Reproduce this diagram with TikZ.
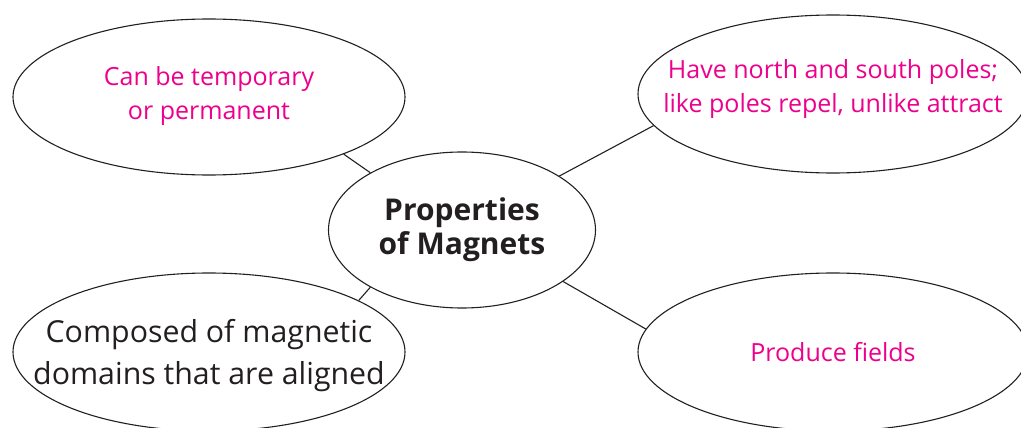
\documentclass[tikz,border=0pt]{standalone}
\usepackage{fontspec}
\setmainfont{Open Sans}
\usepackage{xcolor}
\usepackage{tikz}
\usetikzlibrary{shapes.geometric}

\definecolor{factpink}{RGB}{236,0,140}
\definecolor{inkgray}{RGB}{35,31,32}

\begin{document}
\begin{tikzpicture}[
    x=1pt, y=-1pt,
    % Bubble outlines (sized by hand, text placed on top)
    bubble/.style={
        ellipse, draw=inkgray, line width=1.1pt, inner sep=0pt,
        minimum width=392pt, minimum height=156pt
    },
    % Pink fact text
    facttext/.style={
        align=center, inner sep=0pt, text=factpink,
        font=\fontsize{25}{34}\selectfont
    },
    % Dark body text
    bodytext/.style={
        align=center, inner sep=0pt, text=inkgray,
        font=\fontsize{30.3}{42}\selectfont
    },
    % Central title
    hubtext/.style={
        align=center, inner sep=0pt, text=inkgray,
        font=\fontsize{30}{34}\selectfont\bfseries
    },
    % Spokes
    spoke/.style={draw=inkgray, line width=1.1pt},
]

% Page frame (also cuts the bubbles at the edges)
\clip (0,0) rectangle (1021,428);

% Column and row centres
\def\leftx{209}
\def\rightx{833}
\def\topy{97}
\def\boty{352}

% Central bubble
\node[bubble, minimum width=267pt] (props) at (462, 230) {};
\node[hubtext] (propst) at (props) {Properties\\of Magnets};

% Outer bubbles
\node[bubble] (tempperm) at (\leftx, \topy) {};
\node[facttext] (temppermt) at ([yshift=1pt]tempperm) {Can be temporary\\or permanent};

\node[bubble, minimum width=390pt, minimum height=158pt] (poles) at (\rightx, 94) {};
\node[facttext] (polest) at ([yshift=5pt]poles)
    {Have north and south poles;\\like poles repel, unlike attract};

\node[bubble, minimum height=158pt] (domains) at (\leftx, \boty) {};
\node[bodytext] (domainst) at ([yshift=-4pt]domains)
    {Composed of magnetic\\domains that are aligned};

\node[bubble, minimum width=390pt, minimum height=158pt] (fields) at (\rightx, \boty) {};
\node[facttext] (fieldst) at (fields) {Produce fields};

% Spokes from the centre
\draw[spoke] (props.148) -- (tempperm.-23);
\draw[spoke] (props.29) -- (poles.-170);
\draw[spoke] (props.212) -- (domains.19);
\draw[spoke] (props.-27) -- (fields.173);

\end{tikzpicture}
\end{document}
